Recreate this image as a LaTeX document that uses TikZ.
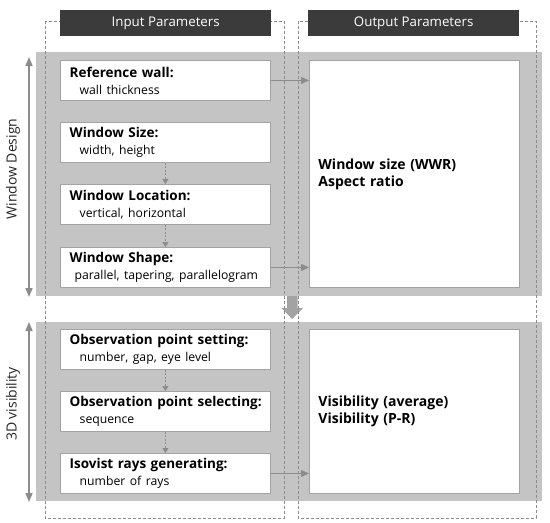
\documentclass[tikz,border=0pt]{standalone}
\usepackage{fontspec}
\setmainfont{Open Sans}
\usepackage{xcolor}
\usepackage{tikz}
\usetikzlibrary{positioning, arrows.meta}

\definecolor{bandgray}{HTML}{C4C4C4}
\definecolor{edgegray}{HTML}{A3A3A3}
\definecolor{linegray}{HTML}{8C8C8C}
\definecolor{headdark}{HTML}{3B3B3B}

% first and second line of an input box
\newcommand\boxtitle[1]{\mbox{\textbf{#1}}}
\newcommand\subline[2][10pt]{{\fontsize{12.2}{17}\selectfont\hspace*{#1}\mbox{#2}}}

\begin{document}
\begin{tikzpicture}[x=1pt, y=-1pt,
    header/.style={fill=headdark, text=white, anchor=north west,
      minimum width=211pt, minimum height=26pt, inner sep=0pt,
      font=\fontsize{13.3}{15}\selectfont},
    inbox/.style={draw=edgegray, line width=0.9pt, fill=white, anchor=north west,
      minimum width=210pt, minimum height=40pt, text width=191.5pt,
      inner xsep=9.25pt, inner ysep=0pt, align=left,
      font=\fontsize{13.5}{17}\selectfont},
    outbox/.style={inbox, text width=192pt, inner xsep=9pt,
      font=\fontsize{14}{17}\selectfont},
    frame/.style={linegray, line width=0.8pt, dash pattern=on 3pt off 2pt},
    flow/.style={linegray, line width=0.9pt, -{Triangle[length=8pt, width=7pt]}},
    step arrow/.style={linegray, line width=0.8pt, dash pattern=on 2pt off 1.5pt,
      -{Triangle[length=5pt, width=6pt]}},
    span/.style={linegray, line width=1.6pt, {Triangle[length=9pt, width=7pt]}-{Triangle[length=9pt, width=7pt]}},
    side/.style={rotate=90, font=\fontsize{14}{16}\selectfont, text=black!85}]
  \useasboundingbox (0,0) rectangle (550,523);

  % ── Grey bands ──
  \fill[bandgray] (36,52) rectangle (542,296);
  \fill[bandgray] (36,322) rectangle (542,501);

  % ── Hand-over between the two stages ──
  \fill[edgegray] (287,296) -- (297.5,296) -- (297.5,308) -- (303,308) -- (292.2,319)
    -- (281.5,308) -- (287,308) -- cycle;

  % ── Dashed outlines ──
  \draw[frame] (45,21) rectangle (284,518);
  \draw[frame] (298,21) rectangle (536,518);

  % ── Headers ──
  \node[header] (inhead) at (60,10) {Input Parameters};
  \node[header] (outhead) at (308,10) {Output Parameters};

  % ── Window design inputs ──
  \node[inbox] (wall) at (60,60)
    {\boxtitle{Reference wall:}\\\subline{wall thickness}};
  \node[inbox] (wsize) at (60,122)
    {\boxtitle{Window Size:}\\\subline{width, height}};
  \node[inbox] (wloc) at (60,184)
    {\boxtitle{Window Location:}\\\subline{vertical, horizontal}};
  \node[inbox] (wshape) at (60,247)
    {\boxtitle{Window Shape:}\\\subline[5pt]{parallel, tapering, parallelogram}};

  % ── 3D visibility inputs ──
  \node[inbox] (opset) at (60,329)
    {\boxtitle{Observation point setting:}\\\subline{number, gap, eye level}};
  \node[inbox] (opsel) at (60,391)
    {\boxtitle{Observation point selecting:}\\\subline{sequence}};
  \node[inbox] (rays) at (60,453)
    {\boxtitle{Isovist rays generating:}\\\subline{number of rays}};

  % ── Outputs ──
  \node[outbox, minimum height=227pt] (wout) at (309,60)
    {\textbf{Window size (WWR)}\\\textbf{Aspect ratio}};
  \node[outbox, minimum height=164pt] (vout) at (309,329)
    {\textbf{Visibility (average)}\\\textbf{Visibility (P-R)}};

  % ── Steps ──
  \draw[step arrow] (wsize) -- (wloc);
  \draw[step arrow] (wloc) -- (wshape);
  \draw[step arrow] (opset) -- (opsel);
  \draw[step arrow] (opsel) -- (rays);

  % ── To outputs ──
  \draw[flow] (wall.east) -- (wout.west |- wall.east);
  \draw[flow] (wshape.east) -- (wout.west |- wshape.east);
  \draw[flow] (rays.east) -- (vout.west |- rays.east);

  % ── Stage spans (left) ──
  \coordinate (wdtop) at (29,57);
  \coordinate (wdbot) at (29,297);
  \coordinate (vistop) at (29,322);
  \coordinate (visbot) at (29,502);
  \draw[span] (wdtop) -- (wdbot);
  \draw[span] (vistop) -- (visbot);
  \node[side] (wdlabel) at (13,169) {Window Design};
  \node[side] (vislabel) at (13,404) {3D visibility};
\end{tikzpicture}
\end{document}
